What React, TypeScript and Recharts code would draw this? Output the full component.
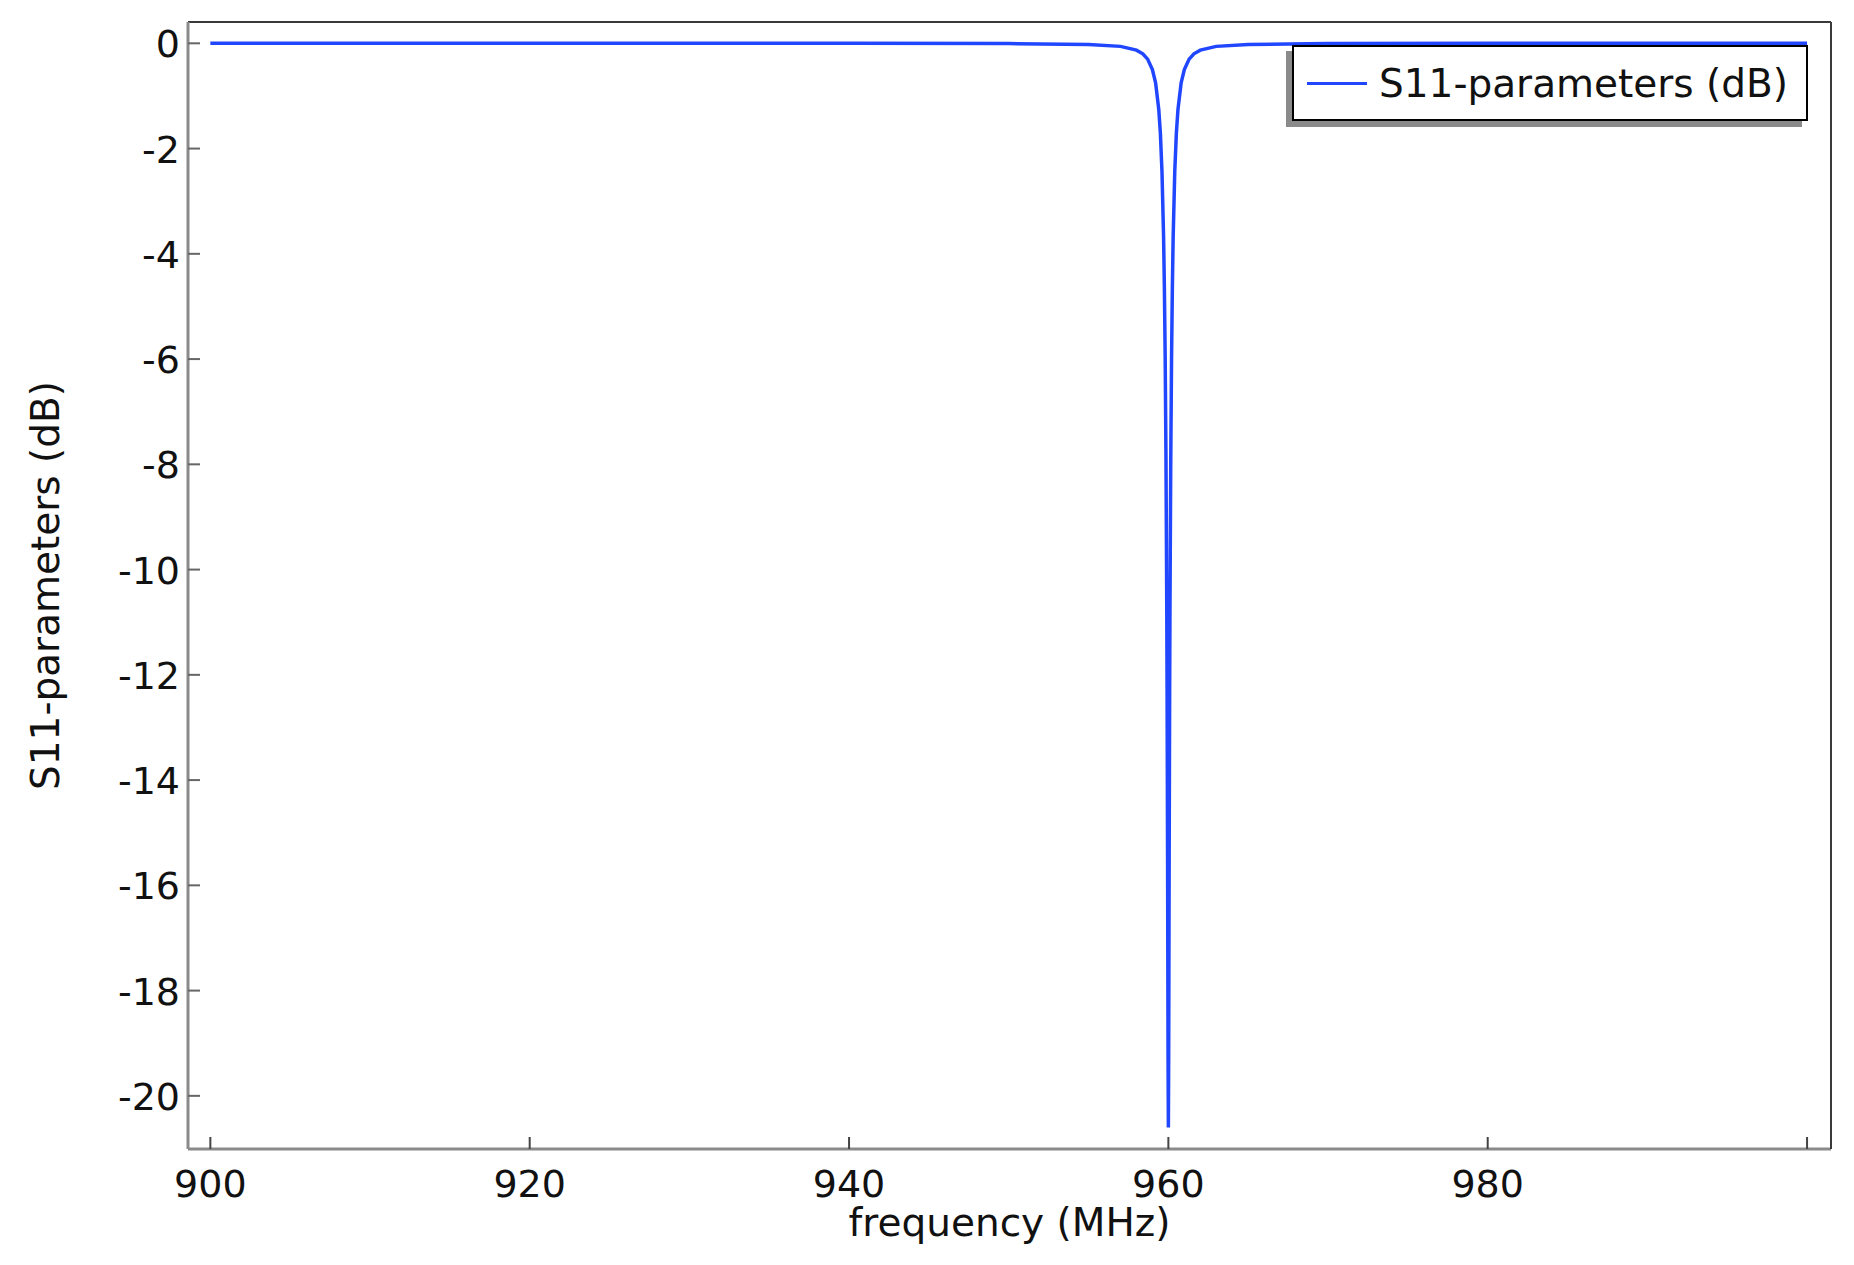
import { LineChart, Line, XAxis, YAxis, Legend } from "recharts";

// frequency (MHz) and S11 (dB)
const FREQ = [
  900, 920, 940, 950, 955, 957, 958, 958.4, 958.7, 959, 959.2, 959.4, 959.5, 959.6, 959.7, 959.75,
  959.8, 959.85, 959.9, 959.92, 959.95, 959.98, 960, 960.02, 960.05, 960.08, 960.1, 960.15, 960.2,
  960.25, 960.3, 960.4, 960.5, 960.6, 960.8, 961, 961.3, 961.6, 962, 963, 965, 970, 980, 1000,
];
const S11_DB = [
  0, -0.001, -0.001, -0.005, -0.021, -0.058, -0.13, -0.2, -0.3, -0.5, -0.75, -1.26, -1.71, -2.44,
  -3.68, -4.64, -5.97, -7.89, -10.78, -12.37, -15.45, -19.23, -20.6, -19.23, -15.45, -12.37, -10.78,
  -7.89, -5.97, -4.64, -3.68, -2.44, -1.71, -1.26, -0.75, -0.5, -0.3, -0.2, -0.13, -0.058, -0.021,
  -0.005, -0.001, 0,
];
const X_TICKS = [900, 920, 940, 960, 980, 1000];
const X_LABELS = ["900", "920", "940", "960", "980", ""];
const Y_TICKS = [0, -2, -4, -6, -8, -10, -12, -14, -16, -18, -20];

const SERIES_NAME = "S11-parameters (dB)";
const X_TITLE = "frequency (MHz)";
const Y_TITLE = "S11-parameters (dB)";

const data = FREQ.map((f, i) => ({ f, s11: S11_DB[i] }));

const FONT = "'DejaVu Sans', Verdana, sans-serif";
const BLUE = "#2046ff";
const TICK_MARGIN = 8;

function XTick(props: any) {
  const { x, y, payload } = props;
  const axisY = y - TICK_MARGIN;
  const idx = X_TICKS.indexOf(payload.value);
  return (
    <g>
      <line x1={x} x2={x} y1={axisY} y2={axisY - 12} stroke="#444" strokeWidth={2} />
      <text x={x} y={axisY + 48} textAnchor="middle" fontSize={38} fill="#111" fontFamily={FONT}>
        {idx >= 0 ? X_LABELS[idx] : payload.value}
      </text>
    </g>
  );
}

function YTick(props: any) {
  const { x, y, payload } = props;
  const axisX = x + TICK_MARGIN;
  return (
    <g>
      <line x1={axisX} x2={axisX + 12} y1={y} y2={y} stroke="#666" strokeWidth={2} />
      <text x={x} y={y + 14} textAnchor="end" fontSize={38} fill="#111" fontFamily={FONT}>
        {payload.value}
      </text>
    </g>
  );
}

function LegendBox() {
  return (
    <div
      style={{
        boxSizing: "border-box",
        width: 516,
        height: 76,
        border: "2px solid #000",
        background: "#fff",
        boxShadow: "-6px 6px 0 #8a8a8a",
        display: "flex",
        alignItems: "center",
        fontFamily: FONT,
        fontSize: 39,
        color: "#111",
      }}
    >
      <div style={{ width: 60, height: 3, background: BLUE, marginLeft: 13, marginRight: 12 }} />
      <span>{SERIES_NAME}</span>
    </div>
  );
}

export default function App() {
  return (
    <div style={{ position: "absolute", left: 0, top: 0, background: "#fff" }}>
      <LineChart width={1854} height={1265} data={data} margin={{ top: 22, right: 23, bottom: 36, left: 88 }}>
        <XAxis
          dataKey="f"
          type="number"
          domain={[898.6, 1001.5]}
          allowDataOverflow
          ticks={X_TICKS}
          interval={0}
          tickSize={0}
          tickMargin={TICK_MARGIN}
          height={80}
          tickLine={false}
          axisLine={{ stroke: "#8a8a8a", strokeWidth: 3 }}
          tick={<XTick />}
          label={(p: any) => {
            const vb = p.viewBox;
            return (
              <text x={vb.x + vb.width / 2} y={vb.y + 87} textAnchor="middle" fontSize={39} fill="#111" fontFamily={FONT}>
                {X_TITLE}
              </text>
            );
          }}
        />
        <XAxis
          xAxisId="top"
          orientation="top"
          type="number"
          domain={[898.6, 1001.5]}
          allowDataOverflow
          ticks={X_TICKS}
          interval={0}
          mirror
          tick={false}
          tickSize={12}
          tickLine={{ stroke: "#555", strokeWidth: 2 }}
          axisLine={{ stroke: "#3a3a3a", strokeWidth: 2 }}
        />
        <YAxis
          type="number"
          domain={[-21.01, 0.405]}
          allowDataOverflow
          ticks={Y_TICKS}
          interval={0}
          width={100}
          tickSize={0}
          tickMargin={TICK_MARGIN}
          tickLine={false}
          axisLine={{ stroke: "#8a8a8a", strokeWidth: 3 }}
          tick={<YTick />}
          label={(p: any) => {
            const vb = p.viewBox;
            const cx = vb.x - 29;
            const cy = vb.y + vb.height / 2;
            return (
              <text
                x={cx}
                y={cy}
                transform={`rotate(-90, ${cx}, ${cy})`}
                textAnchor="middle"
                fontSize={39}
                fill="#111"
                fontFamily={FONT}
              >
                {Y_TITLE}
              </text>
            );
          }}
        />
        <YAxis
          yAxisId="right"
          orientation="right"
          type="number"
          domain={[-21.01, 0.405]}
          allowDataOverflow
          ticks={Y_TICKS}
          interval={0}
          mirror
          tick={false}
          tickSize={12}
          tickLine={{ stroke: "#555", strokeWidth: 2 }}
          axisLine={{ stroke: "#3a3a3a", strokeWidth: 2 }}
        />
        <Legend
          layout="vertical"
          align="center"
          verticalAlign="middle"
          content={() => <LegendBox />}
          wrapperStyle={{ position: "absolute", left: 1292, top: 45, width: 516, height: 76 }}
        />
        <Line
          dataKey="s11"
          name={SERIES_NAME}
          type="linear"
          stroke={BLUE}
          strokeWidth={3.5}
          dot={false}
          isAnimationActive={false}
        />
      </LineChart>
    </div>
  );
}
